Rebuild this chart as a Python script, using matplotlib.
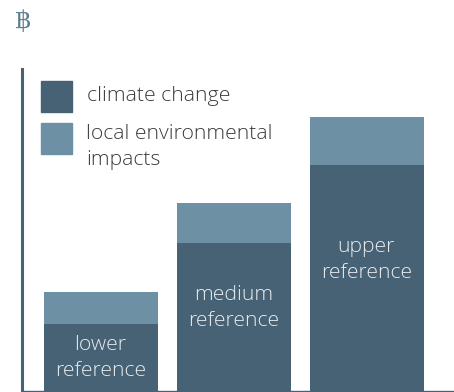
import matplotlib
matplotlib.use("Agg")
import matplotlib.pyplot as plt
from matplotlib.patches import Rectangle

# Stacked bar values
references = ["lower\nreference", "medium\nreference", "upper\nreference"]
climate_change = [67, 148, 226]
local_impacts = [32, 40, 48]
legend_labels = ["climate change", "local environmental\nimpacts"]

DARK = "#476274"
LIGHT = "#6d90a5"
TEXT = "#3c3c3c"
W, H = 454, 392

plt.rcParams["font.family"] = ["Open Sans", "DejaVu Sans"]

fig = plt.figure(figsize=(W / 100, H / 100), dpi=100)
ax = fig.add_axes([22 / W, 1 - 391 / H, (W - 22) / W, 322 / H])

xs = list(range(len(references)))
ax.bar(xs, climate_change, width=114 / 133, color=DARK)
ax.bar(xs, local_impacts, width=114 / 133, bottom=climate_change, color=LIGHT)

ax.set_xlim(-79 / 133, 353 / 133)
ax.set_ylim(0, 322)
ax.set_xticks([])
ax.set_yticks([])
for side in ["top", "right"]:
    ax.spines[side].set_visible(False)
for side in ["left", "bottom"]:
    ax.spines[side].set_color(DARK)
ax.spines["left"].set_linewidth(2.2)
ax.spines["bottom"].set_linewidth(1.0)

# labels sit inside the dark part of each bar
label_y = [32.5, 83, 131]
for x, name, y in zip(xs, references, label_y):
    ax.text(x - 0.006, y, name, ha="center", va="center", color="#e6ebee",
            fontsize=15.2, fontweight="light", linespacing=1.4)

# legend swatches and text
fig.add_artist(Rectangle((41 / W, 1 - 112 / H), 31 / W, 31 / H, color=DARK, transform=fig.transFigure))
fig.add_artist(Rectangle((41 / W, 1 - 154 / H), 31 / W, 31 / H, color=LIGHT, transform=fig.transFigure))
fig.text(87 / W, 1 - 96 / H, legend_labels[0], ha="left", va="center", color=TEXT,
         fontsize=15.3, fontweight="light")
fig.text(86 / W, 1 - 147 / H, legend_labels[1], ha="left", va="center", color=TEXT,
         fontsize=15.2, fontweight="light", linespacing=1.4)

# baht sign above the axis
fig.text(23 / W, 1 - 21 / H, "\u0e3f", ha="center", va="center", color="#5d7d90",
         fontsize=18, family=["DejaVu Serif", "DejaVu Sans"])

fig.savefig("out.png", dpi=100)
